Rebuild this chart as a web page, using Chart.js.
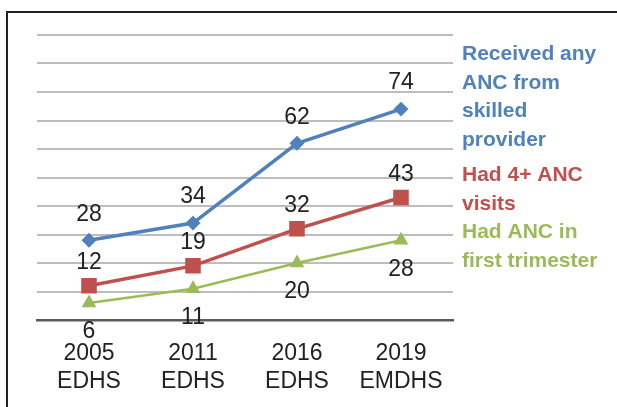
<!DOCTYPE html>
<html>
<head>
<meta charset="utf-8">
<script src="https://cdn.jsdelivr.net/npm/chart.js@4"></script>
<style>
  html, body { margin: 0; padding: 0; background: #fff; }
  #wrap { position: relative; width: 617px; height: 407px; }
  #frame { position: absolute; left: 6px; top: 11px; width: 609px; height: 400px;
           border-top: 2px solid #222; border-left: 2px solid #222; }
  canvas { position: absolute; left: 0; top: 0; }
</style>
</head>
<body>
<div id="wrap">
  <div id="frame"></div>
  <canvas id="ancChart" width="617" height="407"></canvas>
</div>
<script>
// данные графика
let surveys = [['2005', 'EDHS'], ['2011', 'EDHS'], ['2016', 'EDHS'], ['2019', 'EMDHS']]; //ось Ох
let anyAnc = [28, 34, 62, 74]; //Received any ANC from skilled provider
let fourPlus = [12, 19, 32, 43]; //Had 4+ ANC visits
let firstTrim = [6, 11, 20, 28]; //Had ANC in first trimester
let legendLines = [
    ['Received any', 'ANC from', 'skilled', 'provider'],
    ['Had 4+ ANC', 'visits'],
    ['Had ANC in', 'first trimester']
];

let colors = ['#4f81bd', '#c0504d', '#9bbb59'];
let narrow = '"Liberation Sans Narrow", "Arial Narrow", "Liberation Sans", Arial, sans-serif';

// подписи значений над/под точками
const valueLabels = {
    id: 'valueLabels',
    afterDatasetsDraw(chart, args, opts){
        let ctx = chart.ctx;
        ctx.save();
        ctx.font = '23px ' + narrow;
        ctx.fillStyle = '#222';
        ctx.textAlign = 'center';
        ctx.textBaseline = 'middle';
        chart.data.datasets.forEach(function(ds, i){
            let meta = chart.getDatasetMeta(i);
            meta.data.forEach(function(pt, j){
                ctx.fillText(String(ds.data[j]), pt.x, pt.y + opts.offsets[i]);
            });
        });
        ctx.restore();
    }
};

// подписи серий справа
const sideLegend = {
    id: 'sideLegend',
    afterDraw(chart, args, opts){
        let ctx = chart.ctx;
        ctx.save();
        ctx.font = 'bold 21px "Liberation Sans", Arial, sans-serif';
        ctx.textAlign = 'left';
        ctx.textBaseline = 'middle';
        legendLines.forEach(function(lines, i){
            ctx.fillStyle = colors[i];
            lines.forEach(function(line, k){
                ctx.fillText(line, opts.x, opts.starts[i] + k * opts.lineStep);
            });
        });
        ctx.restore();
    }
};

let data = {
    labels: surveys,
    datasets: [
        { data: anyAnc, borderColor: colors[0], backgroundColor: colors[0], borderWidth: 3.5,
          pointStyle: 'rectRot', pointRadius: 5, pointHoverRadius: 5 },
        { data: fourPlus, borderColor: colors[1], backgroundColor: colors[1], borderWidth: 3.5,
          pointStyle: 'rect', pointRadius: 8.5, pointHoverRadius: 8.5 },
        { data: firstTrim, borderColor: colors[2], backgroundColor: colors[2], borderWidth: 2.5,
          pointStyle: 'triangle', pointRadius: 6, pointHoverRadius: 6 }
    ]
};

let config = {
    type: 'line',
    data: data,
    options: {
        responsive: false,
        animation: false,
        events: [],
        layout: { padding: { left: 37, right: 164, top: 35, bottom: 0 } },
        plugins: {
            legend: { display: false },
            tooltip: { enabled: false },
            valueLabels: { offsets: [-26, -23, 29] },
            sideLegend: { x: 462, starts: [54, 175, 232], lineStep: 28.8 }
        },
        scales: {
            x: {
                offset: true,
                grid: { display: false, drawTicks: false },
                border: { display: true, color: '#5a5a5a', width: 2.5 },
                ticks: {
                    color: '#222',
                    padding: 20,
                    maxRotation: 0,
                    font: { family: narrow, size: 23, lineHeight: 1.22 }
                },
                afterFit(scale){ scale.height = 87; }
            },
            y: {
                min: 0,
                max: 100,
                ticks: { display: false, stepSize: 10 },
                grid: {
                    drawTicks: false,
                    lineWidth: 2,
                    color: function(c){ return c.tick && c.tick.value === 0 ? 'rgba(0,0,0,0)' : '#bdbdbd'; }
                },
                border: { display: false },
                afterFit(scale){ scale.width = 0; }
            }
        }
    },
    plugins: [valueLabels, sideLegend]
};

const ancChart = new Chart(document.getElementById('ancChart'), config); //создание графика
</script>
</body>
</html>
